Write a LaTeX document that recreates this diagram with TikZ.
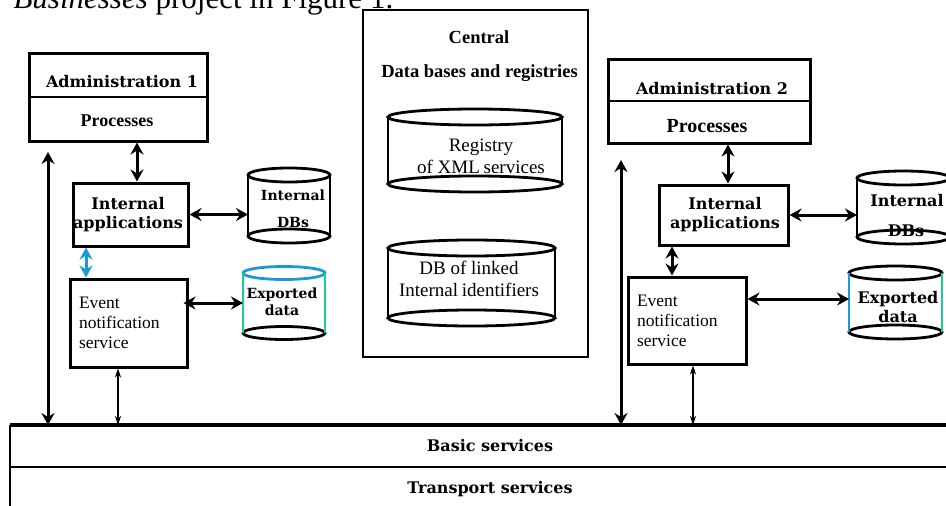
\documentclass[tikz,border=0pt]{standalone}
\usepackage{fontspec}
\setmainfont{Liberation Serif}
\newfontfamily\slab{DejaVu Serif}
\usepackage{xcolor}
\usetikzlibrary{positioning,arrows.meta}

\definecolor{expblue}{HTML}{1C98D2}
\definecolor{expgreen}{HTML}{1CC99B}

% drum: node, x radius, y radius, top colour, left side, right side
\newcommand\drum[6]{%
  \draw[drum,#4] (#1.north) ellipse [x radius=#2, y radius=#3];
  \draw[drum] (#1.south) ellipse [x radius=#2, y radius=#3];
  \draw[drum,#5] (#1.north west) -- (#1.south west);
  \draw[drum,#6] (#1.north east) -- (#1.south east);
}

\begin{document}
\begin{tikzpicture}[
            x=1pt, y=-1pt,
            box/.style={draw, line width=3pt, inner sep=0pt},
            dbody/.style={inner sep=0pt, outer sep=0pt},
            drum/.style={line width=2.8pt},
            link/.style={line width=3pt, {Stealth[length=12pt,width=13pt,inset=4pt]}-{Stealth[length=12pt,width=13pt,inset=4pt]}},
            thinlink/.style={line width=1.4pt, {Stealth[length=9pt,width=6pt]}-{Stealth[length=9pt,width=6pt]}},
            heavy/.style={font=\slab\bfseries\fontsize{16}{19}\selectfont},
            heavysmall/.style={font=\slab\bfseries\fontsize{14}{17}\selectfont},
            title/.style={font=\bfseries\fontsize{18.5}{22}\selectfont},
            plain/.style={font=\fontsize{17.5}{20}\selectfont},
            dbtext/.style={font=\fontsize{19}{22}\selectfont}
        ]
            \useasboundingbox (0,0) rectangle (946,506);
            \clip (0,0) rectangle (946,506);

            \node[anchor=base west, font=\fontsize{31}{34}\selectfont] (lead) at (10,9) {\textit{Businesses} project in Figure~1.};

            % Administration 1
            \node[box, minimum width=178pt, minimum height=88pt] (adm1) at (118,97) {};
            \draw[line width=1.8pt] (adm1.west) -- (adm1.east);
            \node[heavy] (adm1t) at (122,82) {Administration 1};
            \node[font=\bfseries\fontsize{18}{21}\selectfont] (proc1) at (117,121) {Processes};
            \node[box, minimum width=115pt, minimum height=63pt] (apps1) at (130.5,214.5) {};
            \node[heavy, align=center] (apps1t) at (128,214.5) {Internal\\applications};
            \node[box, minimum width=117pt, minimum height=88pt, plain, align=left, text width=99pt] (ev1) at (128.5,323) {Event\\notification\\service};
            \node[dbody, minimum width=82pt, minimum height=61pt] (idb1) at (289,205.5) {};
            \node[heavysmall] (idb1a) at (293,195) {Internal};
            \node[heavysmall] (idb1b) at (293,222) {DBs};
            \node[dbody, minimum width=82pt, minimum height=60pt] (exp1) at (284,303) {};
            \node[heavysmall, align=center] (exp1t) at (282,302) {Exported\\data};
            \drum{idb1}{41pt}{7pt}{black}{black}{black}
            \drum{exp1}{41pt}{6.5pt}{expblue}{expgreen}{expgreen}

            % Central data bases
            \node[draw, line width=1.2pt, minimum width=225pt, minimum height=347pt] (central) at (475.5,183.5) {};
            \node[title] (cent1) at (479,37) {Central};
            \node[title] (cent2) at (479.5,73) {Data bases and registries};
            \node[dbody, minimum width=174pt, minimum height=67pt] (reg) at (475,150.5) {};
            \node[dbtext, align=center] (regt) at (481,156) {Registry\\of XML\kern-1pt\ services};
            \node[dbody, minimum width=167pt, minimum height=70pt] (ids) at (471.5,283) {};
            \node[dbtext, align=center] (idst) at (469,279) {DB of linked\\Internal\kern-1pt\ identifiers};
            \drum{reg}{87pt}{8pt}{black}{black}{black}
            \drum{ids}{83.5pt}{8pt}{black}{black}{black}

            % Administration 2
            \node[box, minimum width=202pt, minimum height=84pt] (adm2) at (709,101) {};
            \draw[line width=1.8pt] (adm2.west) -- (adm2.east);
            \node[heavy] (adm2t) at (712,89) {Administration 2};
            \node[font=\bfseries\fontsize{20}{23}\selectfont] (proc2) at (707,126) {Processes};
            \node[box, minimum width=129pt, minimum height=60pt] (apps2) at (723.5,215) {};
            \node[heavy, align=center] (apps2t) at (725,215) {Internal\\applications};
            \node[box, minimum width=118pt, minimum height=87pt, plain, align=left, text width=100pt] (ev2) at (687,320.5) {Event\\notification\\service};
            \node[dbody, minimum width=93pt, minimum height=59pt] (idb2) at (903.5,207.5) {};
            \node[heavy] (idb2a) at (907,201) {Internal};
            \node[heavy] (idb2b) at (906,231) {DBs};
            \node[dbody, minimum width=93pt, minimum height=59pt] (exp2) at (895.5,302.5) {};
            \node[heavy, align=center] (exp2t) at (898,307) {Exported\\data};
            \drum{idb2}{46.5pt}{7pt}{black}{black}{black}
            \drum{exp2}{46.5pt}{7pt}{black}{expblue}{expgreen}

            % Basic and transport services
            \node[dbody, minimum width=960pt, minimum height=42pt, heavy] (basic) at (490,446) {Basic services};
            \node[dbody, minimum width=960pt, minimum height=44pt, heavy] (transport) at (490,489) {Transport services};
            \draw[line width=1.2pt] (basic.south west) -- (basic.south east);
            \draw[line width=2.4pt] (basic.north west) -- (transport.south west);
            \draw[line width=3.2pt] (basic.north west) -- (basic.north east);

            % Connectors
            \coordinate (up1) at (48,152);
            \coordinate (up2) at (621,160);
            \draw[link] ([xshift=6.5pt]apps1.north |- adm1.south) -- ([xshift=6.5pt]apps1.north);
            \draw[link] (apps1.east) -- (apps1.east -| idb1.west);
            \draw[link, expblue] ([xshift=-44.5pt]apps1.south) -- ([xshift=-44.5pt]apps1.south |- ev1.north);
            \draw[link] ([xshift=-5pt, yshift=20pt]ev1.east) -- ([yshift=20pt]ev1.east -| exp1.west);
            \draw[thinlink] ([xshift=-10.5pt]ev1.south) -- ([xshift=-10.5pt]ev1.south |- basic.north);
            \draw[link] (up1) -- (up1 |- basic.north);
            \draw[link] ([xshift=4.5pt]apps2.north |- adm2.south) -- ([xshift=4.5pt]apps2.north);
            \draw[link] (apps2.east) -- (apps2.east -| idb2.west);
            \draw[link] ([xshift=-51.5pt]apps2.south) -- ([xshift=-51.5pt]apps2.south |- ev2.north);
            \draw[link] ([yshift=21.5pt]ev2.east) -- ([yshift=21.5pt]ev2.east -| exp2.west);
            \draw[thinlink] ([xshift=6pt]ev2.south) -- ([xshift=6pt]ev2.south |- basic.north);
            \draw[link] (up2) -- (up2 |- basic.north);
        \end{tikzpicture}
\end{document}
